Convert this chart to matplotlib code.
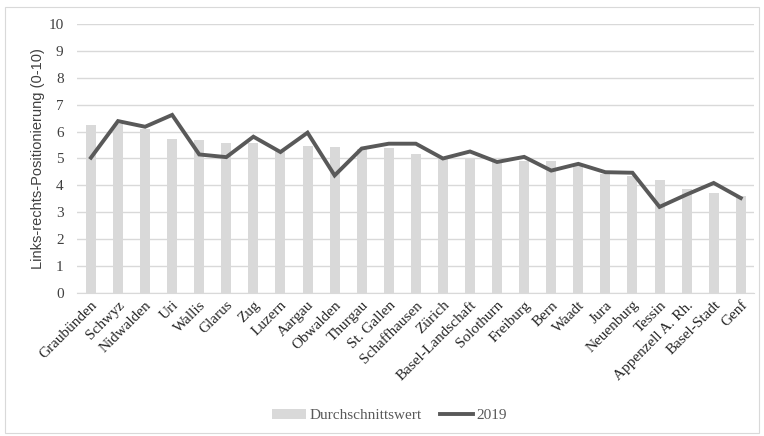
import matplotlib
matplotlib.use("Agg")
import matplotlib.pyplot as plt
from matplotlib.patches import Rectangle
import numpy as np

kantone = ["Graubünden", "Schwyz", "Nidwalden", "Uri", "Wallis", "Glarus", "Zug",
           "Luzern", "Aargau", "Obwalden", "Thurgau", "St. Gallen", "Schaffhausen",
           "Zürich", "Basel-Landschaft", "Solothurn", "Freiburg", "Bern", "Waadt",
           "Jura", "Neuenburg", "Tessin", "Appenzell A. Rh.", "Basel-Stadt", "Genf"]
durchschnitt = [6.24, 6.3, 6.1, 5.73, 5.67, 5.58, 5.57, 5.27, 5.46, 5.43, 5.34,
                5.4, 5.15, 4.99, 4.99, 4.86, 4.9, 4.9, 4.71, 4.44, 4.34, 4.19,
                3.87, 3.72, 3.59]
werte_2019 = [5.03, 6.39, 6.18, 6.62, 5.15, 5.05, 5.81, 5.24, 5.96, 4.37, 5.37,
              5.55, 5.55, 5.0, 5.26, 4.87, 5.06, 4.55, 4.8, 4.49, 4.47, 3.2,
              3.66, 4.09, 3.53]
yticks = list(range(0, 11))

serif = "Liberation Serif"
grau_bar = "#d9d9d9"
grau_linie = "#595959"

fig = plt.figure(figsize=(7.64, 4.36), dpi=100)
fig.patches.append(Rectangle((0.007, 0.006), 0.986, 0.978, transform=fig.transFigure,
                             fill=False, edgecolor="#d9d9d9", linewidth=0.8))
ax = fig.add_axes([0.1013, 0.328, 0.886, 0.617])

x = np.arange(len(kantone))
balken = ax.bar(x, durchschnitt, width=0.37, color=grau_bar, label="Durchschnittswert", zorder=2)
linie, = ax.plot(x, werte_2019, color=grau_linie, linewidth=2.8, label="2019", zorder=3,
                 solid_joinstyle="miter")

ax.set_xlim(-0.5, len(kantone) - 0.5)
ax.set_ylim(0, 10)
ax.set_yticks(yticks)
ax.yaxis.grid(True, color="#d9d9d9", linewidth=1.0, zorder=0)
ax.set_axisbelow(True)
for s in ["top", "right", "left"]:
    ax.spines[s].set_visible(False)
ax.spines["bottom"].set_color("#d9d9d9")
ax.tick_params(axis="both", length=0, colors="#404040")

ax.set_xticks(x)
ax.set_xticklabels(kantone, rotation=45, ha="right", rotation_mode="anchor",
                   fontfamily=serif, fontsize=11, color="#262626")
for lbl in ax.get_yticklabels():
    lbl.set_fontfamily(serif)
    lbl.set_fontsize(11)
    lbl.set_color("#404040")
ax.tick_params(axis="y", pad=10)
ax.tick_params(axis="x", pad=4)

ax.set_ylabel("Links-rechts-Positionierung (0-10)", fontfamily="Liberation Sans",
              fontsize=10.5, color="#404040", labelpad=2)

leg = fig.legend([balken, linie], ["Durchschnittswert", "2019"], loc="lower center",
                 bbox_to_anchor=(0.51, 0.0), ncol=2, frameon=False,
                 prop={"family": serif, "size": 11}, handlelength=2.2,
                 columnspacing=1.2, handletextpad=0.2)
for t in leg.get_texts():
    t.set_color("#595959")

fig.savefig("out.png", dpi=100)
